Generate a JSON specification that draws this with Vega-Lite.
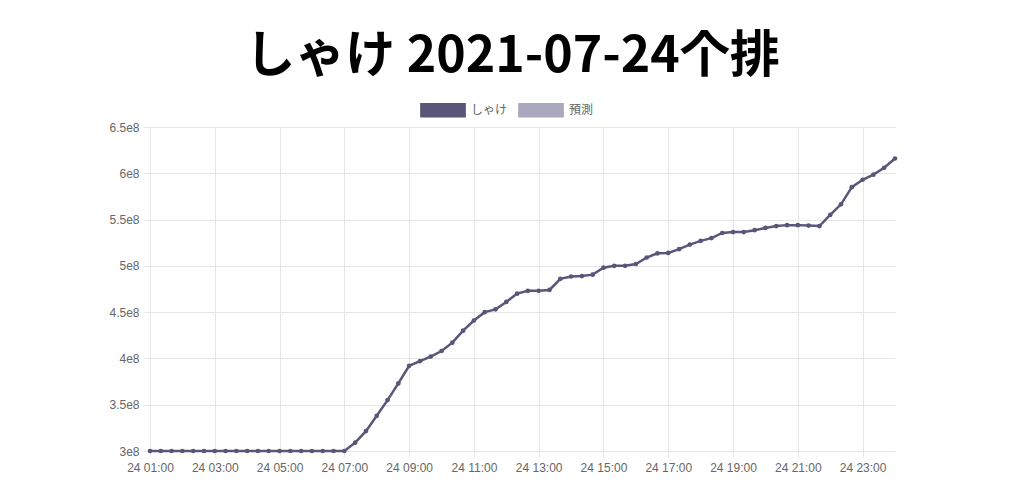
{
  "$schema": "https://vega.github.io/schema/vega-lite/v6.json",
  "autosize": "none",
  "width": 745,
  "height": 324,
  "padding": {"left": 150, "top": 127, "right": 129, "bottom": 35},
  "background": "white",
  "title": {
    "text": "しゃけ 2021-07-24个排",
    "font": "Noto Sans CJK JP",
    "fontSize": 50,
    "fontWeight": "bold",
    "color": "#000000",
    "anchor": "middle",
    "dx": -10,
    "offset": 14
  },
  "config": {
    "view": {"stroke": null},
    "axis": {
      "labelFont": "Liberation Sans",
      "labelFontSize": 12,
      "labelColor": "#666666",
      "gridColor": "#e6e6e6",
      "tickColor": "#e6e6e6",
      "tickSize": 6,
      "domain": false,
      "title": null
    }
  },
  "data": {
    "values": [
      {"t": "2021-07-24T01:00:00", "v": 300000000, "s": "しゃけ"},
      {"t": "2021-07-24T01:20:00", "v": 300000000, "s": "しゃけ"},
      {"t": "2021-07-24T01:40:00", "v": 300000000, "s": "しゃけ"},
      {"t": "2021-07-24T02:00:00", "v": 300000000, "s": "しゃけ"},
      {"t": "2021-07-24T02:20:00", "v": 300000000, "s": "しゃけ"},
      {"t": "2021-07-24T02:40:00", "v": 300000000, "s": "しゃけ"},
      {"t": "2021-07-24T03:00:00", "v": 300000000, "s": "しゃけ"},
      {"t": "2021-07-24T03:20:00", "v": 300000000, "s": "しゃけ"},
      {"t": "2021-07-24T03:40:00", "v": 300000000, "s": "しゃけ"},
      {"t": "2021-07-24T04:00:00", "v": 300000000, "s": "しゃけ"},
      {"t": "2021-07-24T04:20:00", "v": 300000000, "s": "しゃけ"},
      {"t": "2021-07-24T04:40:00", "v": 300000000, "s": "しゃけ"},
      {"t": "2021-07-24T05:00:00", "v": 300000000, "s": "しゃけ"},
      {"t": "2021-07-24T05:20:00", "v": 300000000, "s": "しゃけ"},
      {"t": "2021-07-24T05:40:00", "v": 300000000, "s": "しゃけ"},
      {"t": "2021-07-24T06:00:00", "v": 300000000, "s": "しゃけ"},
      {"t": "2021-07-24T06:20:00", "v": 300000000, "s": "しゃけ"},
      {"t": "2021-07-24T06:40:00", "v": 300000000, "s": "しゃけ"},
      {"t": "2021-07-24T07:00:00", "v": 300000000, "s": "しゃけ"},
      {"t": "2021-07-24T07:20:00", "v": 309000000, "s": "しゃけ"},
      {"t": "2021-07-24T07:40:00", "v": 321500000, "s": "しゃけ"},
      {"t": "2021-07-24T08:00:00", "v": 338000000, "s": "しゃけ"},
      {"t": "2021-07-24T08:20:00", "v": 355000000, "s": "しゃけ"},
      {"t": "2021-07-24T08:40:00", "v": 373000000, "s": "しゃけ"},
      {"t": "2021-07-24T09:00:00", "v": 392000000, "s": "しゃけ"},
      {"t": "2021-07-24T09:20:00", "v": 397000000, "s": "しゃけ"},
      {"t": "2021-07-24T09:40:00", "v": 402000000, "s": "しゃけ"},
      {"t": "2021-07-24T10:00:00", "v": 408000000, "s": "しゃけ"},
      {"t": "2021-07-24T10:20:00", "v": 417000000, "s": "しゃけ"},
      {"t": "2021-07-24T10:40:00", "v": 430000000, "s": "しゃけ"},
      {"t": "2021-07-24T11:00:00", "v": 441000000, "s": "しゃけ"},
      {"t": "2021-07-24T11:20:00", "v": 450000000, "s": "しゃけ"},
      {"t": "2021-07-24T11:40:00", "v": 453000000, "s": "しゃけ"},
      {"t": "2021-07-24T12:00:00", "v": 461000000, "s": "しゃけ"},
      {"t": "2021-07-24T12:20:00", "v": 470000000, "s": "しゃけ"},
      {"t": "2021-07-24T12:40:00", "v": 473000000, "s": "しゃけ"},
      {"t": "2021-07-24T13:00:00", "v": 473000000, "s": "しゃけ"},
      {"t": "2021-07-24T13:20:00", "v": 474000000, "s": "しゃけ"},
      {"t": "2021-07-24T13:40:00", "v": 486000000, "s": "しゃけ"},
      {"t": "2021-07-24T14:00:00", "v": 488500000, "s": "しゃけ"},
      {"t": "2021-07-24T14:20:00", "v": 489000000, "s": "しゃけ"},
      {"t": "2021-07-24T14:40:00", "v": 490500000, "s": "しゃけ"},
      {"t": "2021-07-24T15:00:00", "v": 498000000, "s": "しゃけ"},
      {"t": "2021-07-24T15:20:00", "v": 500000000, "s": "しゃけ"},
      {"t": "2021-07-24T15:40:00", "v": 500000000, "s": "しゃけ"},
      {"t": "2021-07-24T16:00:00", "v": 502000000, "s": "しゃけ"},
      {"t": "2021-07-24T16:20:00", "v": 509000000, "s": "しゃけ"},
      {"t": "2021-07-24T16:40:00", "v": 513500000, "s": "しゃけ"},
      {"t": "2021-07-24T17:00:00", "v": 514000000, "s": "しゃけ"},
      {"t": "2021-07-24T17:20:00", "v": 518000000, "s": "しゃけ"},
      {"t": "2021-07-24T17:40:00", "v": 523000000, "s": "しゃけ"},
      {"t": "2021-07-24T18:00:00", "v": 527000000, "s": "しゃけ"},
      {"t": "2021-07-24T18:20:00", "v": 530000000, "s": "しゃけ"},
      {"t": "2021-07-24T18:40:00", "v": 535500000, "s": "しゃけ"},
      {"t": "2021-07-24T19:00:00", "v": 536500000, "s": "しゃけ"},
      {"t": "2021-07-24T19:20:00", "v": 536500000, "s": "しゃけ"},
      {"t": "2021-07-24T19:40:00", "v": 538500000, "s": "しゃけ"},
      {"t": "2021-07-24T20:00:00", "v": 541000000, "s": "しゃけ"},
      {"t": "2021-07-24T20:20:00", "v": 543000000, "s": "しゃけ"},
      {"t": "2021-07-24T20:40:00", "v": 544000000, "s": "しゃけ"},
      {"t": "2021-07-24T21:00:00", "v": 544000000, "s": "しゃけ"},
      {"t": "2021-07-24T21:20:00", "v": 543500000, "s": "しゃけ"},
      {"t": "2021-07-24T21:40:00", "v": 543000000, "s": "しゃけ"},
      {"t": "2021-07-24T22:00:00", "v": 555000000, "s": "しゃけ"},
      {"t": "2021-07-24T22:20:00", "v": 566500000, "s": "しゃけ"},
      {"t": "2021-07-24T22:40:00", "v": 585000000, "s": "しゃけ"},
      {"t": "2021-07-24T23:00:00", "v": 593000000, "s": "しゃけ"},
      {"t": "2021-07-24T23:20:00", "v": 598500000, "s": "しゃけ"},
      {"t": "2021-07-24T23:40:00", "v": 606000000, "s": "しゃけ"},
      {"t": "2021-07-25T00:00:00", "v": 616000000, "s": "しゃけ"}
    ]
  },
  "mark": {"type": "line", "strokeWidth": 2.5, "point": {"size": 22, "filled": true}},
  "encoding": {
    "x": {
      "field": "t",
      "type": "temporal",
      "scale": {"domain": [
        {"year": 2021, "month": 7, "date": 24, "hours": 1},
        {"year": 2021, "month": 7, "date": 25, "hours": 0}
      ]},
      "axis": {
        "values": [
          {"year": 2021, "month": 7, "date": 24, "hours": 1},
          {"year": 2021, "month": 7, "date": 24, "hours": 3},
          {"year": 2021, "month": 7, "date": 24, "hours": 5},
          {"year": 2021, "month": 7, "date": 24, "hours": 7},
          {"year": 2021, "month": 7, "date": 24, "hours": 9},
          {"year": 2021, "month": 7, "date": 24, "hours": 11},
          {"year": 2021, "month": 7, "date": 24, "hours": 13},
          {"year": 2021, "month": 7, "date": 24, "hours": 15},
          {"year": 2021, "month": 7, "date": 24, "hours": 17},
          {"year": 2021, "month": 7, "date": 24, "hours": 19},
          {"year": 2021, "month": 7, "date": 24, "hours": 21},
          {"year": 2021, "month": 7, "date": 24, "hours": 23}
        ],
        "labelExpr": "timeFormat(datum.value, '%d %H:%M')",
        "labelPadding": 5,
        "labelFlush": false
      }
    },
    "y": {
      "field": "v",
      "type": "quantitative",
      "scale": {"domain": [300000000, 650000000], "nice": false, "zero": false},
      "axis": {
        "values": [300000000, 350000000, 400000000, 450000000, 500000000, 550000000, 600000000, 650000000],
        "labelExpr": "(datum.value / 100000000) + 'e8'",
        "labelPadding": 5
      }
    },
    "color": {
      "field": "s",
      "type": "nominal",
      "scale": {"domain": ["しゃけ", "預測"], "range": ["#58577a", "#aaa8be"]},
      "legend": {
        "title": null,
        "orient": "none",
        "direction": "horizontal",
        "legendX": 279,
        "legendY": -31,
        "symbolType": "M-1.7,-0.5H1.7V0.5H-1.7Z",
        "symbolSize": 676,
        "labelOffset": 14,
        "columnPadding": 7,
        "labelFont": "Noto Sans CJK JP",
        "labelFontSize": 12,
        "labelColor": "#666666",
        "encode": {
          "symbols": {
            "update": {
              "fill": {"scale": "color", "field": "value"},
              "fillOpacity": {"value": 1},
              "stroke": {"value": "#8a889f"},
              "strokeWidth": {"value": 1.5},
              "opacity": {"value": 1}
            }
          }
        }
      }
    }
  }
}
